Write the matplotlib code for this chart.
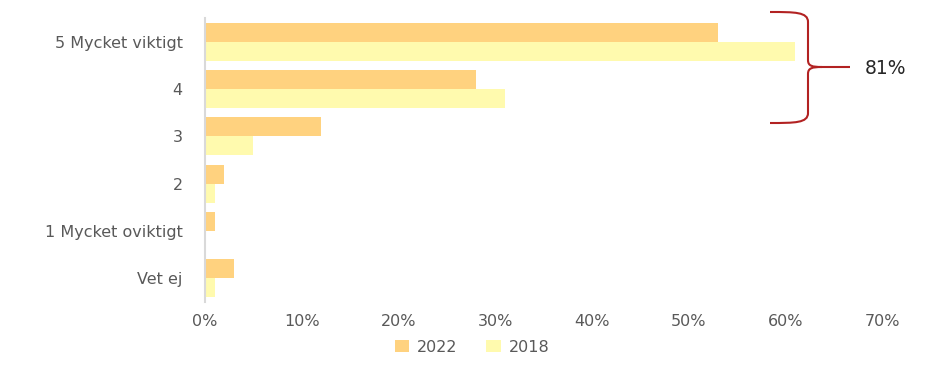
import matplotlib.pyplot as plt
import numpy as np
from matplotlib.path import Path
from matplotlib.patches import PathPatch

kategorier = ["5 Mycket viktigt", "4", "3", "2", "1 Mycket oviktigt", "Vet ej"]
varden_2022 = [53, 28, 12, 2, 1, 3]
varden_2018 = [61, 31, 5, 1, 0, 1]
serier = ["2022", "2018"]
farger = ["#FFD27F", "#FFFAAE"]

W, H = 951, 366
fig = plt.figure(figsize=(W / 100, H / 100), dpi=100)
ax = fig.add_axes([205 / W, 1 - 302 / H, (882 - 205) / W, (302 - 18) / H])

y = np.arange(len(kategorier))
h = 0.4
ax.barh(y - h / 2, varden_2022, height=h, color=farger[0], label=serier[0])
ax.barh(y + h / 2, varden_2018, height=h, color=farger[1], label=serier[1])

ax.set_ylim(len(kategorier) - 0.5, -0.5)
ax.set_yticks(y)
ax.set_yticklabels(kategorier)
ax.set_xlim(0, 70)
ax.set_xticks(range(0, 71, 10))
ax.set_xticklabels([f"{v}%" for v in range(0, 71, 10)])
ax.tick_params(axis="both", length=0, labelsize=11.5, colors="#595959")
ax.tick_params(axis="x", pad=9)
ax.tick_params(axis="y", pad=16)
for s in ["top", "right", "bottom"]:
    ax.spines[s].set_visible(False)
ax.spines["left"].set_color("#D9D9D9")
ax.spines["left"].set_linewidth(1.5)

leg = ax.legend(loc="center", bbox_to_anchor=(472 / W, 1 - 347 / H),
                bbox_transform=fig.transFigure, ncol=2, frameon=False,
                fontsize=11.5, handlelength=0.9, handleheight=0.7,
                columnspacing=1.8, handletextpad=0.5)
for t in leg.get_texts():
    t.set_color("#595959")

# klammer till höger om de två översta staplarna
def p(x, yy):
    return (x / W, 1 - yy / H)

verts = [p(770, 12), p(795, 12), p(808, 12), p(808, 22),
         p(808, 60),
         p(808, 66), p(812, 67), p(822, 67),
         p(850, 67),
         p(822, 67),
         p(812, 67), p(808, 68), p(808, 74),
         p(808, 113),
         p(808, 123), p(795, 123), p(770, 123)]
codes = [Path.MOVETO, Path.CURVE4, Path.CURVE4, Path.CURVE4,
         Path.LINETO,
         Path.CURVE4, Path.CURVE4, Path.CURVE4,
         Path.LINETO,
         Path.MOVETO,
         Path.CURVE4, Path.CURVE4, Path.CURVE4,
         Path.LINETO,
         Path.CURVE4, Path.CURVE4, Path.CURVE4]
fig.patches.append(PathPatch(Path(verts, codes), transform=fig.transFigure,
                             fill=False, edgecolor="#B22222", linewidth=1.5))
fig.text(865 / W, 1 - 68 / H, "81%", fontsize=13.5, color="#262626",
         va="center", ha="left")

fig.savefig("out.png", dpi=100)
